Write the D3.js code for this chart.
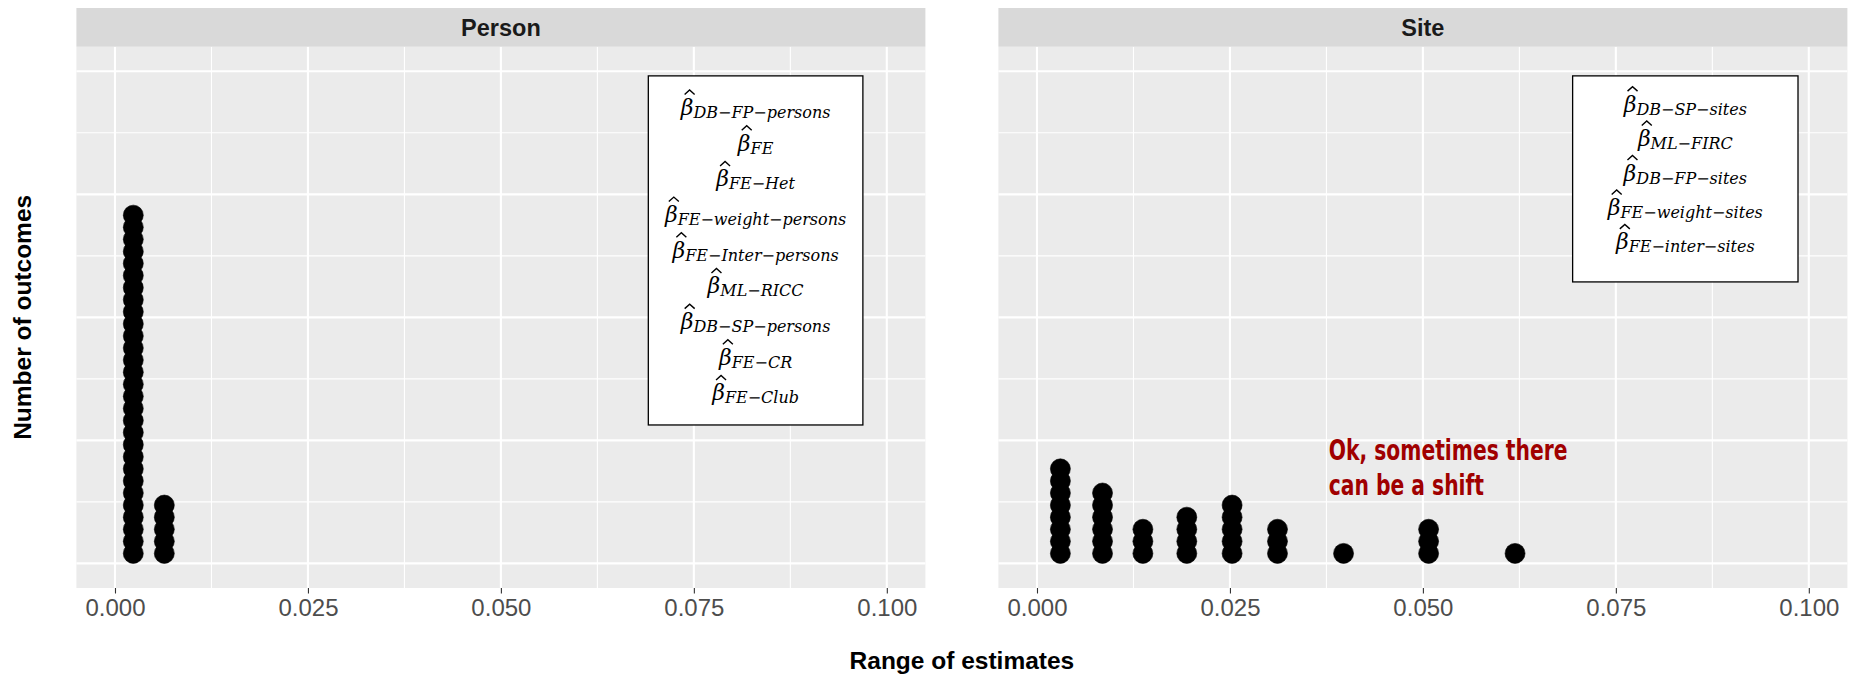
<!DOCTYPE html>
<html>
<head>
<meta charset="utf-8">
<script src="https://cdn.jsdelivr.net/npm/d3@7/dist/d3.min.js"></script>
<style>
  html, body { margin: 0; padding: 0; background: #ffffff; }
  svg { display: block; }
</style>
</head>
<body>
<svg id="chart" width="1857" height="676"></svg>
<script>
// ---- data ---------------------------------------------------------------
const panelNames = ["Person", "Site"];

// dot-plot bins: centre of each stack (range of estimates) and number of outcomes
const personBins   = [0.00237, 0.00639];
const personCounts = [29, 5];

const siteBins   = [0.00303, 0.00849, 0.01372, 0.01941, 0.02528, 0.03116, 0.03972, 0.05074, 0.06194];
const siteCounts = [8, 6, 3, 4, 5, 3, 1, 3, 1];

const xTickValues = [0, 0.025, 0.05, 0.075, 0.1];
const xTickLabels = ["0.000", "0.025", "0.050", "0.075", "0.100"];
const xMinorValues = [0.0125, 0.0375, 0.0625, 0.0875];
const yMajorValues = [0, 0.25, 0.5, 0.75, 1];
const yMinorValues = [0.125, 0.375, 0.625, 0.875];

// estimator subscripts listed in each panel's box
const personEstimators = ["DB−FP−persons", "FE", "FE−Het", "FE−weight−persons", "FE−Inter−persons",
                          "ML−RICC", "DB−SP−persons", "FE−CR", "FE−Club"];
const siteEstimators   = ["DB−SP−sites", "ML−FIRC", "DB−FP−sites", "FE−weight−sites", "FE−inter−sites"];

const noteLines = ["Ok, sometimes there", "can be a shift"];

// ---- layout -------------------------------------------------------------
const svg = d3.select("#chart");
const panelLeft = [76.4, 998.4];
const panelWidth = 849;
const stripTop = 8, stripBottom = 46.7, panelBottom = 588;
const dotRadius = 10, stackRatio = 0.604;
const sansFont = "'Liberation Sans', Arial, Helvetica, sans-serif";

const xDomain = [-0.005, 0.105];
const y = d3.scaleLinear().domain([-0.05, 1.05]).range([panelBottom, stripBottom]);

const panels = [
  { name: panelNames[0], bins: personBins, counts: personCounts, labels: personEstimators,
    box: { x0: 0.0691, x1: 0.0969, y0: 0.9907, y1: 0.2813 }, firstLine: 0.905, lineStep: 0.0725 },
  { name: panelNames[1], bins: siteBins, counts: siteCounts, labels: siteEstimators,
    box: { x0: 0.0694, x1: 0.0986, y0: 0.9907, y1: 0.5720 }, firstLine: 0.912, lineStep: 0.0700 }
];

panels.forEach((p, pi) => {
  const x = d3.scaleLinear().domain(xDomain).range([panelLeft[pi], panelLeft[pi] + panelWidth]);
  const g = svg.append("g");

  // panel background
  g.append("rect")
    .attr("x", x.range()[0]).attr("y", stripBottom)
    .attr("width", panelWidth).attr("height", panelBottom - stripBottom)
    .attr("fill", "#EBEBEB");

  // grid lines
  g.selectAll(".xminor").data(xMinorValues).join("line")
    .attr("x1", d => x(d)).attr("x2", d => x(d))
    .attr("y1", stripBottom).attr("y2", panelBottom)
    .attr("stroke", "#ffffff").attr("stroke-width", 1.1);
  g.selectAll(".yminor").data(yMinorValues).join("line")
    .attr("x1", x.range()[0]).attr("x2", x.range()[1])
    .attr("y1", d => y(d)).attr("y2", d => y(d))
    .attr("stroke", "#ffffff").attr("stroke-width", 1.1);
  g.selectAll(".xmajor").data(xTickValues).join("line")
    .attr("x1", d => x(d)).attr("x2", d => x(d))
    .attr("y1", stripBottom).attr("y2", panelBottom)
    .attr("stroke", "#ffffff").attr("stroke-width", 2.1);
  g.selectAll(".ymajor").data(yMajorValues).join("line")
    .attr("x1", x.range()[0]).attr("x2", x.range()[1])
    .attr("y1", d => y(d)).attr("y2", d => y(d))
    .attr("stroke", "#ffffff").attr("stroke-width", 2.1);

  // facet strip
  g.append("rect")
    .attr("x", x.range()[0]).attr("y", stripTop)
    .attr("width", panelWidth).attr("height", stripBottom - stripTop)
    .attr("fill", "#D9D9D9");
  g.append("text")
    .attr("x", x.range()[0] + panelWidth / 2).attr("y", (stripTop + stripBottom) / 2 + 8.3)
    .attr("text-anchor", "middle")
    .attr("font-family", sansFont)
    .attr("font-weight", "bold").attr("font-size", 23.5)
    .attr("fill", "#1A1A1A")
    .text(p.name);

  // x axis
  const axis = d3.axisBottom(x).tickValues(xTickValues)
    .tickFormat((d, i) => xTickLabels[i]).tickSize(5.5).tickPadding(5);
  const ax = g.append("g").attr("transform", `translate(0,${panelBottom})`).call(axis);
  ax.select(".domain").remove();
  ax.selectAll(".tick line").attr("stroke", "#333333").attr("stroke-width", 1.1);
  ax.selectAll(".tick text")
    .attr("font-family", sansFont)
    .attr("font-size", 24).attr("fill", "#4D4D4D");

  // stacked dots
  const dots = [];
  p.bins.forEach((b, i) => {
    d3.range(p.counts[i]).forEach(k => dots.push({ value: b, k }));
  });
  g.selectAll(".dot").data(dots).join("circle")
    .attr("cx", d => x(d.value))
    .attr("cy", d => y(0) - dotRadius - d.k * 2 * dotRadius * stackRatio)
    .attr("r", dotRadius)
    .attr("fill", "#000000").attr("stroke", "#000000").attr("stroke-width", 0.6);

  // estimator box
  const bx = p.box;
  g.append("rect")
    .attr("x", x(bx.x0)).attr("y", y(bx.y0))
    .attr("width", x(bx.x1) - x(bx.x0)).attr("height", y(bx.y1) - y(bx.y0))
    .attr("fill", "#ffffff").attr("stroke", "#000000").attr("stroke-width", 1.3);
  const cx = (x(bx.x0) + x(bx.x1)) / 2;
  p.labels.forEach((lab, i) => {
    const base = y(p.firstLine - i * p.lineStep) - 3;
    const t = g.append("text")
      .attr("x", cx).attr("y", base)
      .attr("text-anchor", "middle")
      .attr("font-family", "'DejaVu Serif', 'Liberation Serif', serif")
      .attr("font-style", "italic").attr("fill", "#000000");
    t.append("tspan").attr("font-size", 22).text("β");
    t.append("tspan").attr("font-size", 16).attr("dy", 3).text(lab);
    // circumflex accent over the beta
    const ext = t.node().getExtentOfChar(0);
    const hx = ext.x + ext.width / 2 + 2.5;
    g.append("path")
      .attr("d", `M${hx - 5},${base - 20.5} L${hx},${base - 25} L${hx + 5},${base - 20.5}`)
      .attr("fill", "none").attr("stroke", "#000000").attr("stroke-width", 1.4);
  });

  // note in the Site panel
  if (pi === 1) {
    noteLines.forEach((line, i) => {
      g.append("text")
        .attr("transform", `translate(${x(0.0378)},${y(0.21 - i * 0.0712)}) scale(0.70,1)`)
        .attr("font-family", "'DejaVu Sans', sans-serif")
        .attr("font-weight", "bold").attr("font-size", 29)
        .attr("fill", "#A00000")
        .text(line);
    });
  }
});

// axis titles
svg.append("text")
  .attr("x", (panelLeft[0] + panelLeft[1] + panelWidth) / 2).attr("y", 669)
  .attr("text-anchor", "middle")
  .attr("font-family", sansFont)
  .attr("font-weight", "bold").attr("font-size", 24.5)
  .attr("fill", "#000000")
  .text("Range of estimates");

svg.append("text")
  .attr("transform", `translate(31,${(stripBottom + panelBottom) / 2}) rotate(-90)`)
  .attr("text-anchor", "middle")
  .attr("font-family", sansFont)
  .attr("font-weight", "bold").attr("font-size", 24.5)
  .attr("fill", "#000000")
  .text("Number of outcomes");
</script>
</body>
</html>
